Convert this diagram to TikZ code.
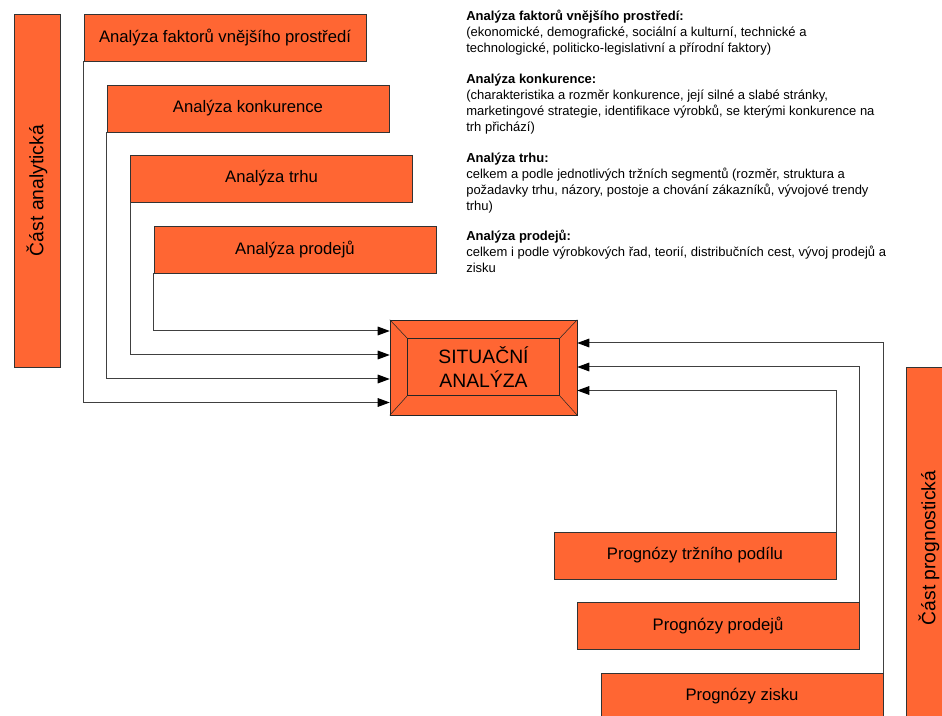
\documentclass[tikz,border=0pt]{standalone}
\usepackage{fontspec}
\setmainfont{Liberation Sans}
\usepackage{tikz}
\usetikzlibrary{calc}
\usetikzlibrary{arrows.meta}
\definecolor{oranz}{RGB}{255,102,51}
\tikzset{
	boxstyle/.style={rectangle,draw=black!80,fill=oranz,minimum width=211.5pt,minimum height=35.25pt,inner sep=0pt,font=\fontsize{12.5}{15}\selectfont},
	barstyle/.style={rectangle,draw=black!80,fill=oranz,rotate=90,minimum width=264.75pt,minimum height=34.5pt,inner sep=0pt,font=\fontsize{14.5}{17}\selectfont},
	sitstyle/.style={rectangle,draw=black!85,fill=oranz,minimum width=140.25pt,minimum height=71.25pt,inner sep=0pt,align=center,font=\fontsize{14.5}{18}\selectfont},
	popisstyle/.style={anchor=north west,align=left,inner sep=0pt,font=\fontsize{9.75}{12}\selectfont},
	linkstyle/.style={draw=black!75,line width=0.75pt,-{Triangle[length=9pt,width=6.5pt,color=black]}}
}

\begin{document}
\begin{tikzpicture}[x=0.75pt,y=-0.75pt]
	\useasboundingbox (0,0) rectangle (942,716);
	\node[barstyle] (analyt) at (37,190.5) {Část analytická};
	\node[barstyle,minimum width=271.5pt] (prognost) at (929,548) {Část prognostická};
	\node[boxstyle] (fak) at (225,37.5) {Analýza faktorů vnějšího prostředí};
	\node[boxstyle] (kon) at (248,108.5) {Analýza konkurence};
	\node[boxstyle] (trh) at (271.5,178.5) {Analýza trhu};
	\node[boxstyle] (prod) at (295,249.5) {Analýza prodejů};
	\node[sitstyle] (sit) at (483.5,367.5) {SITUAČNÍ\\ANALÝZA};
	\node[boxstyle] (ptrz) at (695,555.5) {Prognózy tržního podílu};
	\node[boxstyle] (pprod) at (718,625.5) {Prognózy prodejů};
	\node[boxstyle] (pzis) at (742,696.5) {Prognózy zisku};
	\draw[black!85] ($(sit.north west)+(18,19)$) rectangle ($(sit.south east)+(-18,-20)$);
	\draw[black!85] (sit.north west) -- ($(sit.north west)+(18,19)$);
	\draw[black!85] (sit.north east) -- ($(sit.north east)+(-18,19)$);
	\draw[black!85] (sit.south west) -- ($(sit.south west)+(18,-20)$);
	\draw[black!85] (sit.south east) -- ($(sit.south east)+(-18,-20)$);
	\node[popisstyle] (popis) at (466,10) {\textbf{Analýza faktorů vnějšího prostředí:}\\
		(ekonomické, demografické, sociální a kulturní, technické a\\
		technologické, politicko-legislativní a přírodní faktory)\\[11pt]
		\textbf{Analýza konkurence:}\\
		(charakteristika a rozměr konkurence, její silné a slabé stránky,\\
		marketingové strategie, identifikace výrobků, se kterými konkurence na\\
		trh přichází)\\[11pt]
		\textbf{Analýza trhu:}\\
		celkem a podle jednotlivých tržních segmentů (rozměr, struktura a\\
		požadavky trhu, názory, postoje a chování zákazníků, vývojové trendy\\
		trhu)\\[11pt]
		\textbf{Analýza prodejů:}\\
		celkem i podle výrobkových řad, teorií, distribučních cest, vývoj prodejů a\\
		zisku};
	\draw[linkstyle] (fak.south west) |- ($(sit.west)+(0,35)$);
	\draw[linkstyle] (kon.south west) |- ($(sit.west)+(0,11.5)$);
	\draw[linkstyle] (trh.south west) |- ($(sit.west)+(0,-12.5)$);
	\draw[linkstyle] (prod.south west) |- ($(sit.west)+(0,-36.5)$);
	\draw[linkstyle] (pzis.north east) |- ($(sit.east)+(0,-24.5)$);
	\draw[linkstyle] (pprod.north east) |- ($(sit.east)+(0,-0.5)$);
	\draw[linkstyle] (ptrz.north east) |- ($(sit.east)+(0,23)$);
\end{tikzpicture}
\end{document}
